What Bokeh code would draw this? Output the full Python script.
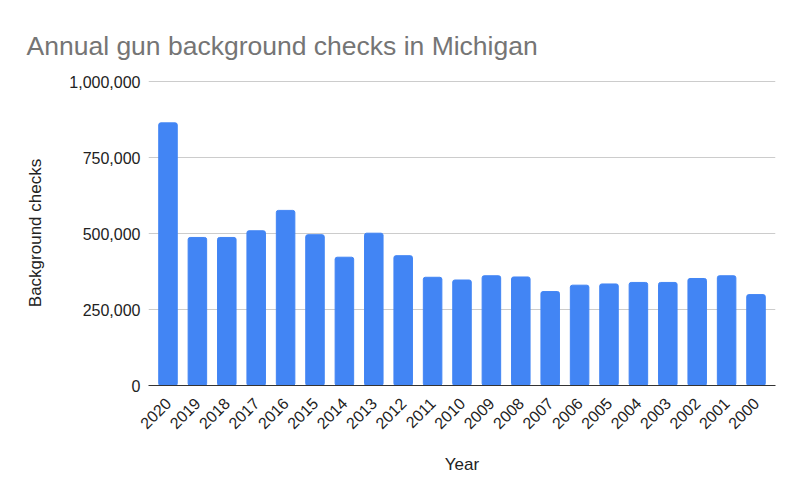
import math
from bokeh.plotting import figure
from bokeh.models import ColumnDataSource, FactorRange, Range1d, FixedTicker, NumeralTickFormatter
from bokeh.embed import file_html
from bokeh.resources import INLINE

years = ["2020", "2019", "2018", "2017", "2016", "2015", "2014", "2013", "2012", "2011",
         "2010", "2009", "2008", "2007", "2006", "2005", "2004", "2003", "2002", "2001", "2000"]
checks = [864000, 487000, 487000, 509000, 576000, 496000, 422000, 501000, 427000, 356000,
          347000, 361000, 357000, 309000, 330000, 334000, 339000, 339000, 352000, 361000, 299000]
y_ticks = [0, 250000, 500000, 750000, 1000000]

FONT = "Liberation Sans"

src = ColumnDataSource(dict(year=years, checks=checks))

p = figure(
    width=784, height=479,
    x_range=FactorRange(*years, range_padding=0.163, range_padding_units="absolute"),
    y_range=Range1d(0, 1003300),
    output_backend="svg", toolbar_location=None,
    min_border_left=148, min_border_right=9, min_border_top=80, min_border_bottom=94,
    title="Annual gun background checks in Michigan",
)

p.vbar(x="year", top="checks", width=0.63, source=src, color="#4285F4",
       line_color="#4285F4", border_radius=2)

p.title.text_font = FONT
p.title.text_font_size = "26.5px"
p.title.text_font_style = "normal"
p.title.text_color = "#757575"
p.title.offset = -122
p.title.standoff = 40

p.outline_line_color = None
p.background_fill_color = "white"
p.border_fill_color = "white"

p.xgrid.grid_line_color = None
p.ygrid.grid_line_color = "#cccccc"
p.ygrid.grid_line_width = 1

p.yaxis.ticker = FixedTicker(ticks=y_ticks)
p.yaxis.formatter = NumeralTickFormatter(format="0,0")
p.yaxis.axis_line_color = None
p.yaxis.major_tick_line_color = None
p.yaxis.minor_tick_line_color = None
p.yaxis.major_label_standoff = 2
p.yaxis.major_label_text_font = FONT
p.yaxis.major_label_text_font_size = "16px"
p.yaxis.major_label_text_color = "#222222"
p.yaxis.axis_label = "Background checks"
p.yaxis.axis_label_text_font = FONT
p.yaxis.axis_label_text_font_size = "17px"
p.yaxis.axis_label_text_font_style = "normal"
p.yaxis.axis_label_text_color = "#222222"
p.yaxis.axis_label_standoff = 21

p.xaxis.axis_line_color = "#333333"
p.xaxis.axis_line_width = 1
p.xaxis.major_tick_line_color = None
p.xaxis.minor_tick_line_color = None
p.xaxis.major_label_orientation = math.pi / 4
p.xaxis.major_label_standoff = 9
p.xaxis.major_label_text_font = FONT
p.xaxis.major_label_text_font_size = "16px"
p.xaxis.major_label_text_color = "#222222"
p.xaxis.axis_label = "Year"
p.xaxis.axis_label_text_font = FONT
p.xaxis.axis_label_text_font_size = "17px"
p.xaxis.axis_label_text_font_style = "normal"
p.xaxis.axis_label_text_color = "#222222"
p.xaxis.axis_label_standoff = 18

open("out.html", "w").write(file_html(p, INLINE))
